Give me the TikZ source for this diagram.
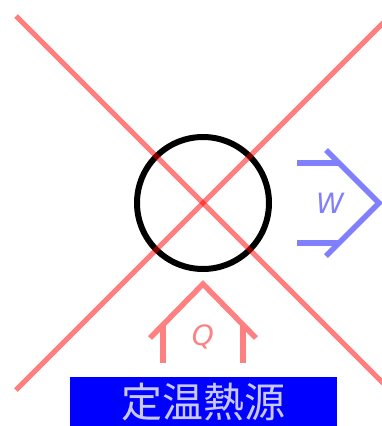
\documentclass[tikz,border=0pt]{standalone}
\usepackage{fontspec}
\setmainfont{DejaVu Sans}
\newfontfamily\cjk{Noto Sans CJK JP}
\definecolor{boxblue}{HTML}{0000FF}
\definecolor{textlav}{HTML}{C8C8FF}
\definecolor{wblue}{HTML}{8080FF}
\definecolor{qred}{HTML}{FF8080}
\begin{document}
\begin{tikzpicture}[x=1pt,y=-1pt,
  crossline/.style={draw=red,opacity=0.5,line width=5pt},
  wline/.style={draw=wblue,line width=5.5pt},
  qline/.style={draw=qred,line width=5.5pt},
  lbl/.style={font=\fontsize{28}{30}\selectfont\itshape,inner sep=0pt}]
\useasboundingbox (0,0) rectangle (382,426);
\begin{scope}
\clip (0,0) rectangle (382,426);
% circle
\node[circle,draw=black,line width=6pt,minimum size=132pt,inner sep=0pt] (eng) at (203,203) {};
% heat source box
\node[fill=boxblue,minimum width=267pt,minimum height=50pt,inner sep=0pt,anchor=north west,
  font=\cjk\fontsize{41}{44}\selectfont,text=textlav] (src) at (70,377) {\raisebox{-2pt}{定温熱源}};
% W arrow
\coordinate (w1) at (297,163);
\coordinate (w1e) at (338,163);
\coordinate (w2) at (297,243);
\coordinate (w2e) at (338,243);
\coordinate (wa) at (326,150);
\coordinate (wt) at (379,203);
\coordinate (wb) at (326,256);
\draw[wline] (w1) -- (w1e);
\draw[wline] (w2) -- (w2e);
\draw[wline,line join=miter] (wa) -- (wt) -- (wb);
\node[lbl,text=wblue] (W) at (330,203) {W};
% Q arrow
\coordinate (q1) at (163,363);
\coordinate (q1e) at (163,326);
\coordinate (q2) at (243,363);
\coordinate (q2e) at (243,326);
\coordinate (qa) at (150,338);
\coordinate (qt) at (203,284);
\coordinate (qb) at (256,338);
\draw[qline] (q1) -- (q1e);
\draw[qline] (q2) -- (q2e);
\draw[qline,line join=miter] (qa) -- (qt) -- (qb);
\node[lbl,text=qred] (Q) at (203,337) {Q};
% cross
\coordinate (c1) at (16,16);
\coordinate (c2) at (392,392);
\coordinate (c3) at (16,390);
\coordinate (c4) at (392,14);
\draw[crossline] (c1) -- (c2);
\draw[crossline] (c3) -- (c4);
\end{scope}
\end{tikzpicture}
\end{document}
